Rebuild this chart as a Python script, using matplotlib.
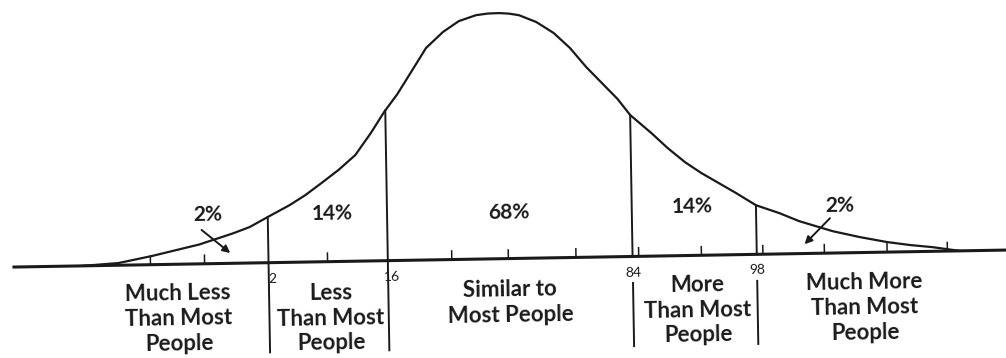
import numpy as np
import matplotlib.pyplot as plt
import matplotlib.transforms as mtransforms

plt.rcParams['font.family'] = ['Lato', 'DejaVu Sans']

# bell curve: position in standard deviations, height in % of the peak
curve_z = [-3.49, -3.20, -2.93, -2.54, -2.27, -2.13, -1.98, -1.80, -1.67, -1.54,
           -1.40, -1.26, -1.13, -1.02, -0.91, -0.80, -0.67, -0.53, -0.40, -0.26,
           -0.16, -0.07, 0.01, 0.09, 0.23, 0.37, 0.50, 0.63, 0.77, 0.88,
           0.98, 1.15, 1.28, 1.42, 1.55, 1.69, 1.83, 1.99, 2.18, 2.34,
           2.61, 2.83, 3.05, 3.24, 3.42, 3.64]
curve_h = [0.0, 0.9, 3.5, 7.9, 12.1, 14.6, 18.6, 23.3, 27.3, 32.0,
           37.2, 43.2, 52.1, 60.5, 67.7, 76.2, 86.3, 92.7, 97.0, 99.3,
           99.9, 100.0, 99.7, 99.0, 96.1, 91.5, 85.3, 77.4, 70.0, 64.2,
           57.6, 50.1, 43.9, 38.0, 33.5, 29.3, 25.1, 20.0, 16.6, 13.2,
           8.9, 6.3, 4.1, 2.7, 1.7, 0.0]

# percentile cut lines
cut_z = [-1.98, -1.01, 0.98, 1.99]
cut_labels = ['2', '16', '84', '98']

# small ticks on the baseline
tick_z = [-2.94, -2.50, -1.50, -0.49, -0.03, 0.52, 1.03, 1.54, 2.04, 2.54, 3.05, 3.54]

# share of people in each band
pct_labels = ['2%', '14%', '68%', '14%', '2%']
pct_z = [-2.47, -1.46, -0.02, 1.47, 2.67]
pct_y = [19.8, 19.7, 18.5, 19.7, 19.4]

group_labels = ['Much Less\nThan Most\nPeople', 'Less\nThan Most\nPeople',
                'Similar to\nMost People', 'More\nThan Most\nPeople',
                'Much More\nThan Most\nPeople']
group_z = [-2.72, -1.48, -0.02, 1.50, 2.86]
group_y = [-22.3, -23.0, -17.9, -22.3, -22.4]

# arrows pointing into the 2% tails
arrow_tail_z = [-2.52, 2.59]
arrow_tail_y = [13.8, 14.2]
arrow_head_z = [-2.29, 2.38]
arrow_head_y = [4.2, 3.8]

ink = '#1a1a1a'

fig = plt.figure(figsize=(10.06, 3.58), dpi=100)
ax = fig.add_axes([0, 0, 1, 1])
ax.set_xlim(-4.163, 4.016)
ax.set_ylim(-40.5, 105.25)
ax.axis('off')

# the scanned drawing is tilted by about one degree
angle = 0.98
tilt = ax.transData + mtransforms.Affine2D().rotate_deg_around(512, 99.5, angle)

ax.plot([-4.05, 4.1], [0, 0], color=ink, lw=2.2, transform=tilt)
ax.plot(curve_z, curve_h, color=ink, lw=1.6, transform=tilt,
        solid_joinstyle='round')

for z in tick_z:
    ax.plot([z, z], [0, 3.5], color=ink, lw=1.1, transform=tilt)

for z, lab in zip(cut_z, cut_labels):
    top = np.interp(z, curve_z, curve_h)
    ax.plot([z, z], [top, 0], color=ink, lw=1.4, transform=tilt)
    if z < 0:
        # left lines run on, number sits just right of them
        ax.plot([z, z], [0, -36.5], color=ink, lw=1.4, transform=tilt)
        ax.text(z + 0.03, -6.5, lab, ha='center', va='center', fontsize=10,
                color=ink, transform=tilt, rotation=angle, rotation_mode='anchor')
    else:
        # right lines break for the number
        ax.plot([z, z], [-10.8, -36.5], color=ink, lw=1.4, transform=tilt)
        ax.text(z + 0.005, -6.5, lab, ha='center', va='center', fontsize=10,
                color=ink, transform=tilt, rotation=angle, rotation_mode='anchor')

for z, y, lab in zip(pct_z, pct_y, pct_labels):
    ax.text(z, y, lab, ha='center', va='center', fontsize=15, fontweight='bold',
            color=ink, transform=tilt, rotation=angle, rotation_mode='anchor')

for z, y, lab in zip(group_z, group_y, group_labels):
    ax.text(z, y, lab, ha='center', va='center', fontsize=16, fontweight='bold',
            color=ink, linespacing=1.25, transform=tilt, rotation=angle,
            rotation_mode='anchor')

for tz, ty, hz, hy in zip(arrow_tail_z, arrow_tail_y, arrow_head_z, arrow_head_y):
    ax.annotate('', xy=(hz, hy), xytext=(tz, ty), xycoords=tilt, textcoords=tilt,
                arrowprops=dict(arrowstyle='-|>', color=ink, lw=1.4,
                                mutation_scale=11, shrinkA=0, shrinkB=0))

fig.savefig('out.png', dpi=100)
